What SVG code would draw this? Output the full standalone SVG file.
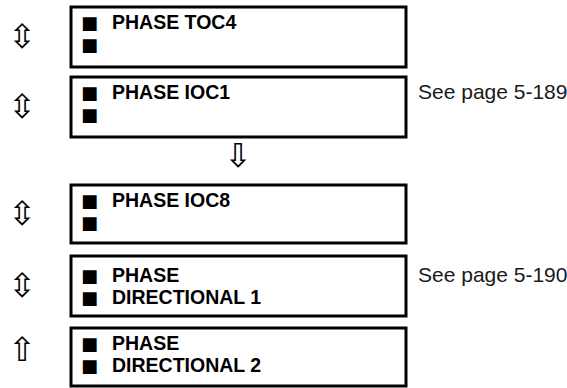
<svg xmlns="http://www.w3.org/2000/svg" width="567" height="388" viewBox="0 0 567 388">
<style>
.box{fill:#fff;stroke:#000;stroke-width:3}
.t{font-family:"Liberation Sans",Arial,sans-serif;font-weight:bold;font-size:19.5px;fill:#000}
.b{font-family:"DejaVu Sans",sans-serif;font-size:18px;fill:#000}
.ref{font-family:"Liberation Sans",Arial,sans-serif;font-size:21px;fill:#1a1a1a}
.ar{font-family:"DejaVu Sans",sans-serif;font-size:33px;fill:#000;text-anchor:middle}
</style>
<rect width="567" height="388" fill="#fff"/>
<g id="connectors">
<text class="ar" x="22" y="48">⇳</text>
<text class="ar" x="22" y="118">⇳</text>
<text class="ar" x="238" y="167">⇩</text>
<text class="ar" x="22" y="225">⇳</text>
<text class="ar" x="22" y="297">⇳</text>
<text class="ar" x="22" y="361">⇧</text>
</g>
<g id="toc4">
<rect class="box" x="71" y="7" width="335" height="60"/>
<text class="b" x="81" y="29">■</text><text class="t" x="112" y="29">PHASE TOC4</text>
<text class="b" x="81" y="51">■</text>
</g>
<g id="ioc1">
<rect class="box" x="71" y="77" width="335" height="60"/>
<text class="b" x="81" y="99">■</text><text class="t" x="112" y="99">PHASE IOC1</text>
<text class="b" x="81" y="121">■</text>
</g>
<text class="ref" x="418" y="99">See page 5-189</text>
<g id="ioc8">
<rect class="box" x="71" y="185" width="335" height="58"/>
<text class="b" x="81" y="207">■</text><text class="t" x="112" y="207">PHASE IOC8</text>
<text class="b" x="81" y="229">■</text>
</g>
<g id="dir1">
<rect class="box" x="71" y="256" width="335" height="60"/>
<text class="b" x="81" y="282">■</text><text class="t" x="112" y="282">PHASE</text>
<text class="b" x="81" y="304">■</text><text class="t" x="112" y="304">DIRECTIONAL 1</text>
</g>
<text class="ref" x="418" y="282">See page 5-190</text>
<g id="dir2">
<rect class="box" x="71" y="328" width="335" height="58"/>
<text class="b" x="81" y="350">■</text><text class="t" x="112" y="350">PHASE</text>
<text class="b" x="81" y="372">■</text><text class="t" x="112" y="372">DIRECTIONAL 2</text>
</g>
</svg>
